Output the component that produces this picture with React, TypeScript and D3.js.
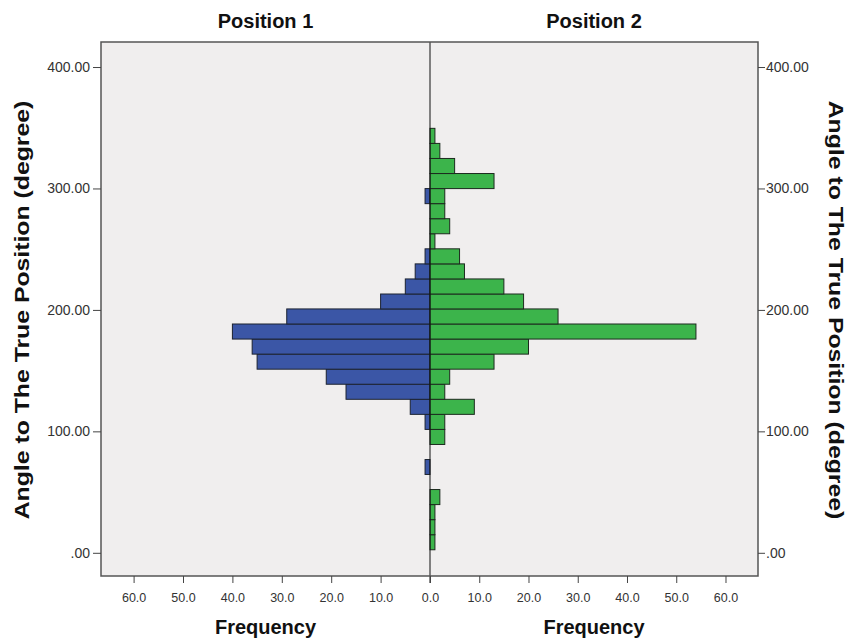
import { useEffect, useRef } from "react"
import * as d3 from "d3"

// bin edges of the angle histogram (degrees), 28 bins
const binEdges = [
  2.5, 14.9, 27.3, 39.7, 52.1, 64.5, 76.8, 89.2, 101.6, 114.0, 126.4, 138.8, 151.2, 163.6, 176.0,
  188.4, 200.8, 213.1, 225.5, 237.9, 250.3, 262.7, 275.1, 287.5, 299.9, 312.3, 324.7, 337.1, 349.5,
]
const position1 = [0, 0, 0, 0, 0, 1, 0, 0, 1, 4, 17, 21, 35, 36, 40, 29, 10, 5, 3, 1, 0, 0, 0, 1, 0, 0, 0, 0]
const position2 = [1, 1, 1, 2, 0, 0, 0, 3, 3, 9, 3, 4, 13, 20, 54, 26, 19, 15, 7, 6, 1, 4, 3, 3, 13, 5, 2, 1]
const panelTitles = ["Position 1", "Position 2"]
const yTicks = [0, 100, 200, 300, 400]
const freqTicks = [0, 10, 20, 30, 40, 50, 60]

const W = 850
const H = 639
const FONT = "'Liberation Sans', Arial, sans-serif"

export default function App() {
  const svgRef = useRef<SVGSVGElement>(null)

  useEffect(() => {
    if (!svgRef.current) return
    const svg = d3.select(svgRef.current)
    svg.selectAll("*").remove()

    const left = 101
    const right = 758
    const top = 42
    const bottom = 576
    const mid = 430

    const y = d3.scaleLinear().domain([-19.1, 420.6]).range([bottom, top])
    const xL = d3.scaleLinear().domain([0, 66.6]).range([mid, left])
    const xR = d3.scaleLinear().domain([0, 66.6]).range([mid, right])

    svg.append("rect").attr("width", W).attr("height", H).attr("fill", "#fff")

    // * plot background
    svg
      .append("rect")
      .attr("x", left)
      .attr("y", top)
      .attr("width", right - left)
      .attr("height", bottom - top)
      .attr("fill", "#f0eeee")

    const bins = binEdges.slice(0, -1).map((lo, i) => ({ lo, hi: binEdges[i + 1], a: position1[i], b: position2[i] }))

    // * Position 1 bars (left, blue)
    svg
      .append("g")
      .selectAll("rect")
      .data(bins.filter((d) => d.a > 0))
      .join("rect")
      .attr("x", (d) => xL(d.a))
      .attr("y", (d) => y(d.hi))
      .attr("width", (d) => mid - xL(d.a))
      .attr("height", (d) => y(d.lo) - y(d.hi))
      .attr("fill", "#3b56a6")
      .attr("stroke", "#1c2230")
      .attr("stroke-width", 1)

    // * Position 2 bars (right, green)
    svg
      .append("g")
      .selectAll("rect")
      .data(bins.filter((d) => d.b > 0))
      .join("rect")
      .attr("x", mid)
      .attr("y", (d) => y(d.hi))
      .attr("width", (d) => xR(d.b) - mid)
      .attr("height", (d) => y(d.lo) - y(d.hi))
      .attr("fill", "#3cb44b")
      .attr("stroke", "#1c2a1e")
      .attr("stroke-width", 1)

    // * center line
    svg
      .append("line")
      .attr("x1", mid)
      .attr("x2", mid)
      .attr("y1", top)
      .attr("y2", bottom + 7)
      .attr("stroke", "#111")
      .attr("stroke-width", 1)

    // * frame
    svg
      .append("rect")
      .attr("x", left)
      .attr("y", top)
      .attr("width", right - left)
      .attr("height", bottom - top)
      .attr("fill", "none")
      .attr("stroke", "#555")
      .attr("stroke-width", 1.5)

    const styleAxis = (size: number) => (g: d3.Selection<SVGGElement, unknown, null, undefined>) => {
      g.select(".domain").remove()
      g.selectAll(".tick line").attr("stroke", "#444")
      g.selectAll(".tick text").attr("font-family", FONT).attr("font-size", `${size}px`).attr("fill", "#333")
    }

    const fmtY = (d: d3.NumberValue) => (Number(d) === 0 ? ".00" : Number(d).toFixed(2))

    svg
      .append("g")
      .attr("transform", `translate(${left},0)`)
      .call(d3.axisLeft(y).tickValues(yTicks).tickFormat(fmtY).tickSize(8).tickPadding(3))
      .call(styleAxis(14))

    svg
      .append("g")
      .attr("transform", `translate(${right},0)`)
      .call(d3.axisRight(y).tickValues(yTicks).tickFormat(fmtY).tickSize(7).tickPadding(1))
      .call(styleAxis(14))

    const fmtX = (d: d3.NumberValue) => Number(d).toFixed(1)

    svg
      .append("g")
      .attr("transform", `translate(0,${bottom})`)
      .call(d3.axisBottom(xL).tickValues(freqTicks.slice(1)).tickFormat(fmtX).tickSize(7).tickPadding(10))
      .call(styleAxis(12.5))

    svg
      .append("g")
      .attr("transform", `translate(0,${bottom})`)
      .call(d3.axisBottom(xR).tickValues(freqTicks).tickFormat(fmtX).tickSize(7).tickPadding(10))
      .call(styleAxis(12.5))

    // * panel titles and axis titles
    const centers = [(left + mid) / 2, (mid + right) / 2]
    panelTitles.forEach((t, i) => {
      svg
        .append("text")
        .attr("x", centers[i])
        .attr("y", 28)
        .attr("text-anchor", "middle")
        .attr("font-family", FONT)
        .attr("font-size", "20px")
        .attr("font-weight", "700")
        .attr("fill", "#111")
        .text(t)

      svg
        .append("text")
        .attr("x", centers[i])
        .attr("y", 634)
        .attr("text-anchor", "middle")
        .attr("font-family", FONT)
        .attr("font-size", "20px")
        .attr("font-weight", "700")
        .attr("fill", "#111")
        .text("Frequency")
    })

    // * side titles are stretched along their length like the source
    const yTitle = "Angle to The True Position (degree)"
    svg
      .append("text")
      .attr("transform", `translate(29,${(top + bottom) / 2 + 1}) rotate(-90) scale(1.24,1)`)
      .attr("text-anchor", "middle")
      .attr("font-family", FONT)
      .attr("font-size", "20px")
      .attr("font-weight", "700")
      .attr("fill", "#111")
      .text(yTitle)

    svg
      .append("text")
      .attr("transform", `translate(829,${(top + bottom) / 2 + 1}) rotate(90) scale(1.24,1)`)
      .attr("text-anchor", "middle")
      .attr("font-family", FONT)
      .attr("font-size", "20px")
      .attr("font-weight", "700")
      .attr("fill", "#111")
      .text(yTitle)
  }, [])

  return (
    <svg
      ref={svgRef}
      width={W}
      height={H}
      style={{ position: "absolute", left: 0, top: 0, display: "block" }}
    ></svg>
  )
}
